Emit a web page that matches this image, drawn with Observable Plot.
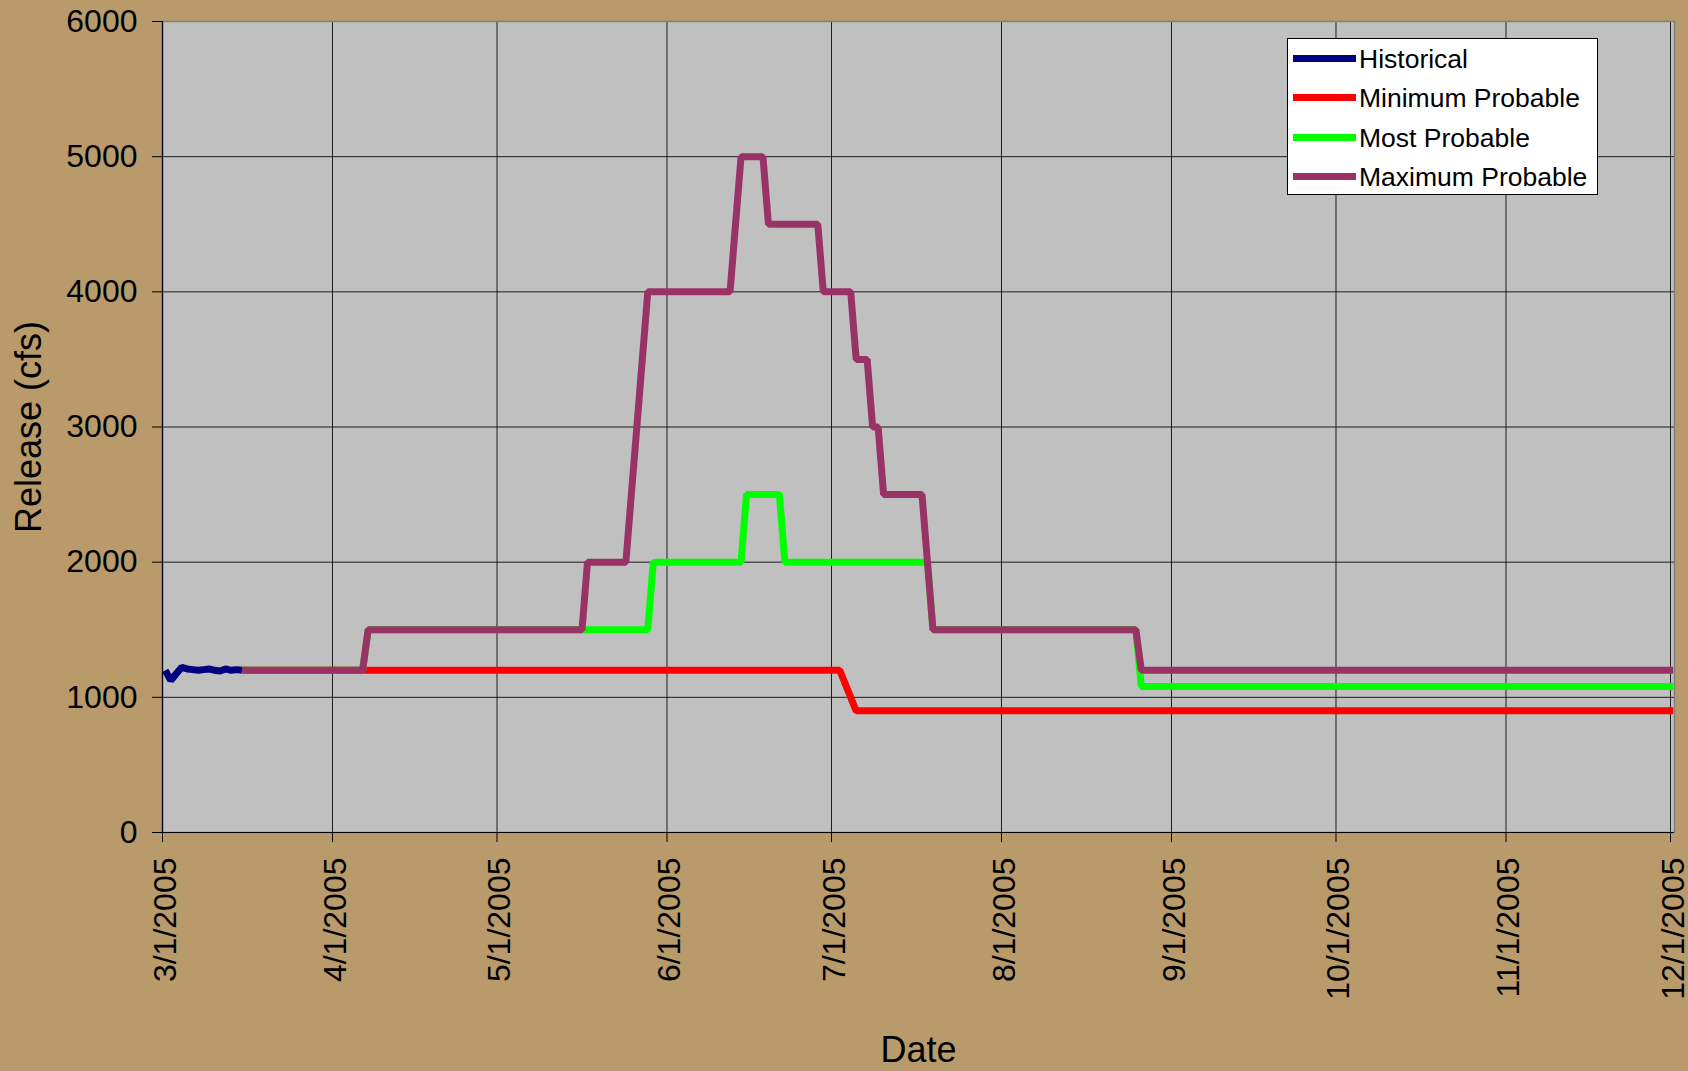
<!DOCTYPE html>
<html>
<head>
<meta charset="utf-8">
<script src="https://cdn.jsdelivr.net/npm/d3@7"></script>
<script src="https://cdn.jsdelivr.net/npm/@observablehq/plot@0.6"></script>
<style>
  html, body { margin: 0; padding: 0; background: #B99B6B; }
  #wrap { position: relative; width: 1688px; height: 1071px; overflow: hidden; font-family: "Liberation Sans", Arial, sans-serif; }
  #legend { position: absolute; left: 1287px; top: 38px; width: 309px; height: 155px; background: #fff; border: 1px solid #000; }
  .lrow { position: absolute; left: 0; height: 30px; width: 100%; }
  .lsw { position: absolute; left: 5px; top: 11px; width: 63px; height: 7px; }
  .ltx { position: absolute; left: 71px; top: 0; font-size: 26.5px; line-height: 30px; color: #000; white-space: nowrap; }
</style>
</head>
<body>
<div id="wrap"></div>
<script>
// ---- data ----
const seriesNames = ["Historical", "Minimum Probable", "Most Probable", "Maximum Probable"];
const seriesColors = ["#000080", "#FF0000", "#00FF00", "#993366"];

const historicalDates = ["2005-03-01","2005-03-02","2005-03-03","2005-03-04","2005-03-05","2005-03-06","2005-03-07","2005-03-08","2005-03-09","2005-03-10","2005-03-11","2005-03-12","2005-03-13","2005-03-14","2005-03-15"];
const historicalValues = [1200, 1125, 1175, 1222, 1210, 1205, 1200, 1205, 1210, 1200, 1195, 1210, 1200, 1205, 1200];

const minimumDates = ["2005-03-15","2005-07-02","2005-07-05","2005-12-01"];
const minimumValues = [1200, 1200, 900, 900];

const mostDates = ["2005-03-15","2005-04-06","2005-04-07","2005-05-28","2005-05-29","2005-06-14","2005-06-15","2005-06-21","2005-06-22","2005-07-18","2005-07-19","2005-08-25","2005-08-26","2005-12-01"];
const mostValues = [1200, 1200, 1500, 1500, 2000, 2000, 2500, 2500, 2000, 2000, 1500, 1500, 1080, 1080];

const maximumDates = ["2005-03-15","2005-04-06","2005-04-07","2005-05-16","2005-05-17","2005-05-24","2005-05-28","2005-06-12","2005-06-14","2005-06-18","2005-06-19","2005-06-28","2005-06-29","2005-07-04","2005-07-05","2005-07-07","2005-07-08","2005-07-09","2005-07-10","2005-07-17","2005-07-19","2005-08-25","2005-08-26","2005-12-01"];
const maximumValues = [1200, 1200, 1500, 1500, 2000, 2000, 4000, 4000, 5000, 5000, 4500, 4500, 4000, 4000, 3500, 3500, 3000, 3000, 2500, 2500, 1500, 1500, 1200, 1200];

const xTickDates = ["2005-03-01","2005-04-01","2005-05-01","2005-06-01","2005-07-01","2005-08-01","2005-09-01","2005-10-01","2005-11-01","2005-12-01"];
const xTickLabels = ["3/1/2005","4/1/2005","5/1/2005","6/1/2005","7/1/2005","8/1/2005","9/1/2005","10/1/2005","11/1/2005","12/1/2005"];
const yTicks = [0, 1000, 2000, 3000, 4000, 5000, 6000];

const xTitle = "Date";
const yTitle = "Release (cfs)";

// ---- build table ----
const parse = s => new Date(s + "T00:00:00Z");
const seriesDates = [historicalDates, minimumDates, mostDates, maximumDates];
const seriesValues = [historicalValues, minimumValues, mostValues, maximumValues];
const rows = [];
seriesNames.forEach((name, k) => {
  seriesDates[k].forEach((d, i) => rows.push({series: name, date: parse(d), value: seriesValues[k][i]}));
});
const tickDates = xTickDates.map(parse);
const xTickTable = tickDates.map((d, i) => ({date: d, label: xTickLabels[i]}));
const HALF_DAY = 12 * 3600 * 1000;

const chart = Plot.plot({
  width: 1688,
  height: 1071,
  marginLeft: 162,
  marginRight: 14,
  marginTop: 21,
  marginBottom: 239,
  style: {background: "#B99B6B", fontFamily: "'Liberation Sans', Arial, sans-serif", color: "#000", overflow: "visible"},
  x: {type: "utc", domain: [tickDates[0], tickDates[tickDates.length - 1]], range: [162, 1670]},
  y: {domain: [0, 6000], range: [832, 21]},
  color: {domain: seriesNames, range: seriesColors},
  marks: [
    Plot.frame({fill: "#C0C0C0", stroke: "none"}),
    Plot.gridX(tickDates, {stroke: "#000", strokeOpacity: 0.85, strokeWidth: 1}),
    Plot.gridY(yTicks, {stroke: "#000", strokeOpacity: 0.85, strokeWidth: 1}),
    Plot.frame({stroke: "#808080", strokeWidth: 1.5, fill: "none"}),
    Plot.ruleX([tickDates[0]], {stroke: "#000", strokeWidth: 1.2}),
    Plot.ruleY([0], {stroke: "#000", strokeWidth: 1.2}),
    Plot.axisY({ticks: yTicks, tickSize: 10, tickPadding: 15, tickFormat: d3.format("d"), fontSize: 32, label: null, stroke: "#000"}),
    Plot.axisX({ticks: tickDates, tickSize: 10, tickFormat: () => "", label: null, stroke: "#000"}),
    Plot.text(xTickTable, {x: "date", text: "label", frameAnchor: "bottom", rotate: -90, textAnchor: "end", lineAnchor: "middle", dy: 25, dx: 3, fontSize: 32, fill: "#000"}),
    Plot.line(rows, {x: r => new Date(+r.date + HALF_DAY), y: "value", z: "series", stroke: "series", strokeWidth: 7, strokeLinejoin: "miter", strokeLinecap: "butt"}),
    Plot.text([xTitle], {frameAnchor: "bottom", dy: 218, fontSize: 36, lineAnchor: "middle", fill: "#000"}),
    Plot.text([yTitle], {frameAnchor: "left", dx: -133, rotate: -90, textAnchor: "middle", fontSize: 36, lineAnchor: "middle", fill: "#000"})
  ]
});

const wrap = document.getElementById("wrap");
wrap.appendChild(chart);

// legend
const legend = document.createElement("div");
legend.id = "legend";
seriesNames.forEach((name, i) => {
  const row = document.createElement("div");
  row.className = "lrow";
  row.style.top = (5 + 39.4 * i) + "px";
  const sw = document.createElement("div");
  sw.className = "lsw";
  sw.style.background = seriesColors[i];
  const tx = document.createElement("div");
  tx.className = "ltx";
  tx.textContent = name;
  row.appendChild(sw);
  row.appendChild(tx);
  legend.appendChild(row);
});
wrap.appendChild(legend);
</script>
</body>
</html>
